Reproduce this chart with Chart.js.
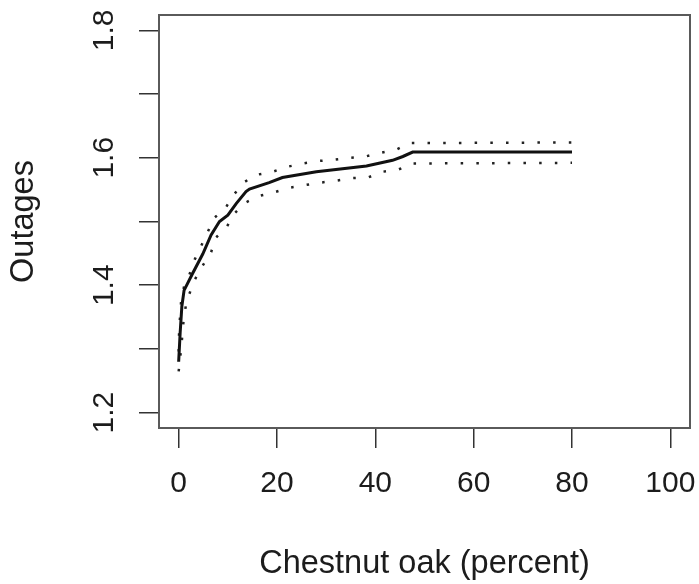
<!DOCTYPE html>
<html>
<head>
<meta charset="utf-8">
<title>Outages vs Chestnut oak</title>
<script src="https://cdn.jsdelivr.net/npm/chart.js@4"></script>
<style>
  html, body { margin: 0; padding: 0; background: #ffffff; }
  #wrap { width: 699px; height: 584px; }
</style>
</head>
<body>
<div id="wrap"><canvas id="plot" width="699" height="584"></canvas></div>
<script>
// Fitted response curve (solid)
const fitX = [0, 0.3, 0.65, 1.1, 2.8, 4.9, 6.6, 8.3, 10.0, 11.7, 13.7, 14.4, 18.4, 21.1, 28.0, 38.2, 43.5, 45.6, 47.6, 80];
const fitY = [1.280, 1.325, 1.367, 1.392, 1.418, 1.449, 1.479, 1.500, 1.510, 1.528, 1.547, 1.551, 1.561, 1.569, 1.578, 1.587, 1.596, 1.602, 1.609, 1.609];

// Upper confidence band (dotted)
const upperX = [0, 0.1, 0.5, 1.1, 2.2, 3.3, 4.6, 6.0, 7.3, 9.6, 11.2, 13.2, 15.7, 19.1, 22.2, 25.2, 28.5, 31.7, 34.8, 38.0, 41.2, 44.3, 47.0, 80];
const upperY = [1.296, 1.330, 1.375, 1.398, 1.417, 1.441, 1.462, 1.485, 1.506, 1.522, 1.542, 1.561, 1.573, 1.578, 1.586, 1.591, 1.595, 1.597, 1.600, 1.602, 1.608, 1.613, 1.623, 1.624];

// Lower confidence band (dotted)
const lowerX = [0, 0.5, 1.0, 1.5, 2.15, 3.3, 4.9, 6.6, 7.6, 9.75, 11.3, 13.4, 16.3, 19.5, 22.5, 25.6, 28.8, 32.0, 35.3, 38.5, 41.4, 44.5, 47.7, 80];
const lowerY = [1.265, 1.300, 1.345, 1.370, 1.386, 1.409, 1.431, 1.452, 1.475, 1.491, 1.512, 1.529, 1.540, 1.546, 1.553, 1.557, 1.561, 1.564, 1.568, 1.569, 1.578, 1.581, 1.591, 1.592];

// Axis ticks
const xTicks = [0, 20, 40, 60, 80, 100];
const yTicks = [1.2, 1.3, 1.4, 1.5, 1.6, 1.7, 1.8];
const yTickLabels = ['1.2', '', '1.4', '', '1.6', '', '1.8'];

const xTitle = 'Chestnut oak (percent)';
const yTitle = 'Outages';

const toPoints = (xs, ys) => xs.map((x, i) => ({ x: x, y: ys[i] }));

const FONT = "'Liberation Sans', Arial, Helvetica, sans-serif";
const INK = '#1c1c1c';

// Frame around the plotting region
const framePlugin = {
  id: 'frame',
  afterDraw(chart) {
    const { ctx, chartArea: a } = chart;
    ctx.save();
    ctx.strokeStyle = '#5a5a5a';
    ctx.lineWidth = 2;
    ctx.strokeRect(a.left, a.top, a.right - a.left, a.bottom - a.top);
    ctx.restore();
  }
};

new Chart(document.getElementById('plot'), {
  type: 'line',
  data: {
    datasets: [
      {
        label: 'fit',
        data: toPoints(fitX, fitY),
        borderColor: '#111111',
        borderWidth: 3,
        pointRadius: 0,
        tension: 0,
        fill: false
      },
      {
        label: 'upper',
        data: toPoints(upperX, upperY),
        borderColor: '#222222',
        borderWidth: 2.5,
        borderDash: [2.5, 13.2],
        borderCapStyle: 'butt',
        pointRadius: 0,
        tension: 0,
        fill: false
      },
      {
        label: 'lower',
        data: toPoints(lowerX, lowerY),
        borderColor: '#222222',
        borderWidth: 2.5,
        borderDash: [2.5, 13.2],
        borderCapStyle: 'butt',
        pointRadius: 0,
        tension: 0,
        fill: false
      }
    ]
  },
  options: {
    responsive: false,
    animation: false,
    devicePixelRatio: 1,
    layout: { padding: { top: 15, right: 9, left: 0, bottom: 0 } },
    plugins: {
      legend: { display: false },
      tooltip: { enabled: false }
    },
    scales: {
      x: {
        type: 'linear',
        min: -4,
        max: 104,
        afterBuildTicks(scale) { scale.ticks = xTicks.map(v => ({ value: v })); },
        afterFit(scale) {
          scale.height = 156;
          scale.paddingLeft = 0;
          scale.paddingRight = 0;
        },
        grid: { drawOnChartArea: false, drawTicks: true, tickLength: 20, color: '#333333', lineWidth: 1.5 },
        border: { display: false },
        ticks: {
          autoSkip: false,
          maxRotation: 0,
          padding: 18,
          color: INK,
          font: { family: FONT, size: 30 },
          callback: (v) => String(v)
        },
        title: {
          display: true,
          text: xTitle,
          color: INK,
          font: { family: FONT, size: 32.5, lineHeight: 1.2 },
          padding: { top: 0, bottom: 0 }
        }
      },
      y: {
        type: 'linear',
        min: 1.176,
        max: 1.824,
        afterBuildTicks(scale) { scale.ticks = yTicks.map(v => ({ value: v })); },
        afterFit(scale) {
          scale.width = 159;
          scale.paddingTop = 0;
          scale.paddingBottom = 0;
        },
        grid: { drawOnChartArea: false, drawTicks: true, tickLength: 20, color: '#333333', lineWidth: 1.5 },
        border: { display: false },
        ticks: {
          autoSkip: false,
          minRotation: 90,
          maxRotation: 90,
          crossAlign: 'center',
          padding: 13,
          color: INK,
          font: { family: FONT, size: 30 },
          callback: (v) => {
            const i = yTicks.findIndex(t => Math.abs(t - v) < 1e-9);
            return i >= 0 ? yTickLabels[i] : '';
          }
        },
        title: {
          display: true,
          text: yTitle,
          color: INK,
          font: { family: FONT, size: 32.5, lineHeight: 1.2 },
          padding: { top: 5, bottom: 0 }
        }
      }
    }
  },
  plugins: [framePlugin]
});
</script>
</body>
</html>
